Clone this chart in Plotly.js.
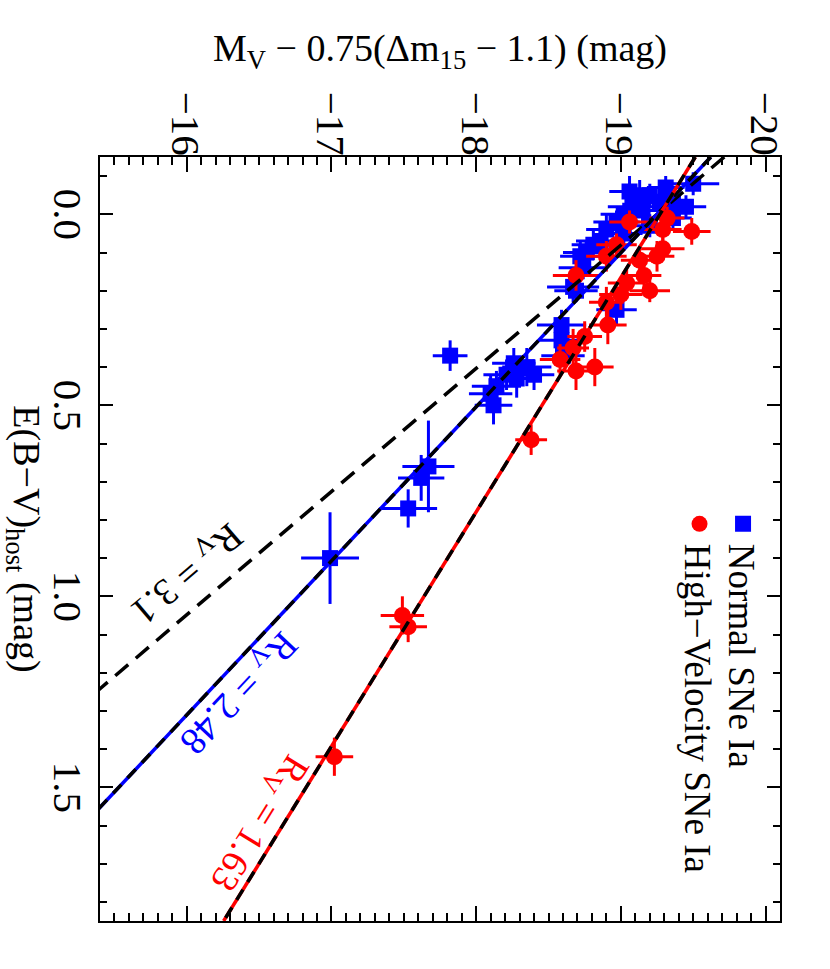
<!DOCTYPE html>
<html>
<head>
<meta charset="utf-8">
<script src="https://cdn.plot.ly/plotly-3.0.1.min.js"></script>
<style>
html,body{margin:0;padding:0;width:830px;height:969px;overflow:hidden;background:#fff;}
#wrap{position:absolute;left:0;top:0;width:969px;height:830px;transform-origin:0 0;transform:translate(830px,0) rotate(90deg);}
#plot{width:969px;height:830px;}
</style>
</head>
<body>
<div id="wrap"><div id="plot"></div></div>
<script>
// Normal SNe Ia
const blueE    = [-0.08,-0.02,-0.05,-0.05,-0.02,-0.03,-0.03,0.00,-0.01,-0.01,0.02,0.04,0.05,0.07,0.08,0.10,0.11,0.14,0.03,0.01,0.19,0.20,0.25,0.29,0.33,0.37,-0.07,-0.06,0.39,0.40,0.42,0.42,0.43,0.45,0.47,0.50,0.37,0.66,0.69,0.77,0.90];
const blueM    = [-19.50,-19.45,-19.13,-19.20,-19.08,-19.27,-19.36,-19.02,-19.15,-19.32,-18.97,-18.90,-19.02,-18.86,-18.81,-18.76,-18.72,-18.74,-19.20,-19.36,-18.67,-18.69,-18.97,-18.59,-18.59,-18.60,-19.31,-19.06,-18.26,-18.35,-18.40,-18.21,-18.28,-18.14,-18.10,-18.12,-17.82,-17.67,-17.62,-17.53,-16.99];
const blueEerr = [0.03,0.03,0.04,0.03,0.03,0.04,0.03,0.03,0.04,0.03,0.03,0.04,0.03,0.03,0.04,0.03,0.04,0.03,0.03,0.03,0.04,0.03,0.04,0.04,0.04,0.03,0.03,0.04,0.04,0.05,0.04,0.04,0.05,0.04,0.05,0.05,0.04,0.12,0.06,0.05,0.12];
const blueMerr = [0.18,0.14,0.12,0.15,0.17,0.13,0.14,0.16,0.12,0.15,0.16,0.14,0.13,0.17,0.15,0.16,0.14,0.17,0.12,0.13,0.18,0.15,0.14,0.17,0.16,0.15,0.13,0.14,0.15,0.17,0.14,0.16,0.13,0.17,0.15,0.13,0.12,0.18,0.16,0.20,0.20];
// High-Velocity SNe Ia
const redE    = [0.045,0.02,0.01,0.04,0.09,0.11,0.11,0.16,0.12,0.16,0.20,0.18,0.08,0.21,0.29,0.32,0.35,0.38,0.41,0.40,0.23,0.59,1.05,1.08,1.42];
const redM    = [-19.49,-19.06,-19.32,-19.29,-19.29,-19.25,-18.90,-18.69,-19.13,-19.16,-19.20,-19.04,-18.97,-19.00,-18.91,-18.75,-18.67,-18.58,-18.69,-18.82,-18.90,-18.38,-17.49,-17.53,-17.02];
const redEerr = [0.035,0.03,0.03,0.04,0.03,0.04,0.04,0.04,0.03,0.04,0.03,0.04,0.03,0.04,0.05,0.04,0.05,0.04,0.05,0.05,0.04,0.04,0.05,0.04,0.05];
const redMerr = [0.13,0.14,0.12,0.13,0.15,0.12,0.14,0.16,0.13,0.12,0.14,0.13,0.14,0.15,0.13,0.12,0.11,0.14,0.13,0.13,0.12,0.11,0.15,0.13,0.13];
// Extinction-law lines  M = M0 + Rv * E(B-V)
const rvValues   = [3.1, 2.48, 1.63];
const rvIntercept= [-19.25, -19.25, -19.27];
const rvLabels   = ['R<sub>V</sub> = 3.1','R<sub>V</sub> = 2.48','R<sub>V</sub> = 1.63'];
const rvLabelE   = [0.938, 1.25, 1.59];
const rvLabelM   = [-15.99, -16.35, -16.49];
const seriesNames= ['Normal SNe Ia','High\u2212Velocity SNe Ia'];
const eRange = [-0.15, 1.85];
const mRange = [-15.4, -20.1];

const FONT = "'Liberation Serif', 'Times New Roman', Times, serif";
const BLUE = '#0000ff', RED = '#ff0000';

function lineM(i){ return eRange.map(e => rvIntercept[i] + rvValues[i]*e); }

const traces = [
  {type:'scatter', mode:'markers', name:seriesNames[0], x:blueE, y:blueM,
   marker:{symbol:'square', size:16, color:BLUE},
   error_x:{type:'data', array:blueEerr, color:BLUE, thickness:3, width:0},
   error_y:{type:'data', array:blueMerr, color:BLUE, thickness:3, width:0},
   legend:'legend'},
  {type:'scatter', mode:'markers', name:seriesNames[1], x:redE, y:redM,
   marker:{symbol:'circle', size:17, color:RED},
   error_x:{type:'data', array:redEerr, color:RED, thickness:3, width:0},
   error_y:{type:'data', array:redMerr, color:RED, thickness:3, width:0},
   legend:'legend2'},
  {type:'scatter', mode:'lines', x:eRange, y:lineM(0), showlegend:false, hoverinfo:'skip',
   line:{color:'black', width:3.5, dash:'17px,10px'}},
  {type:'scatter', mode:'lines', x:eRange, y:lineM(1), showlegend:false, hoverinfo:'skip',
   line:{color:BLUE, width:3.5}},
  {type:'scatter', mode:'lines', x:eRange, y:lineM(1), showlegend:false, hoverinfo:'skip',
   line:{color:'black', width:3.5, dash:'12px,9px'}},
  {type:'scatter', mode:'lines', x:eRange, y:lineM(2), showlegend:false, hoverinfo:'skip',
   line:{color:RED, width:3.5}},
  {type:'scatter', mode:'lines', x:eRange, y:lineM(2), showlegend:false, hoverinfo:'skip',
   line:{color:'black', width:3.5, dash:'12px,9px'}}
];

const labelColors = ['black', BLUE, RED];
const annotations = rvValues.map((r,i)=>({
  x:rvLabelE[i], y:rvLabelM[i], xref:'x', yref:'y', text:rvLabels[i], showarrow:false,
  textangle: Math.atan(r*680/4.7/(764/2.0)) * 180/Math.PI,
  font:{family:FONT, size:38, color:labelColors[i]}, xanchor:'center', yanchor:'middle'
}));

const layout = {
  width:969, height:830,
  margin:{l:157, r:48, t:50, b:100},
  paper_bgcolor:'white', plot_bgcolor:'white',
  font:{family:FONT, size:38, color:'black'},
  showlegend:true,
  xaxis:{
    range:eRange, tick0:0, dtick:0.5, tickformat:'.1f',
    ticks:'inside', ticklen:13, tickwidth:2, tickcolor:'black',
    showline:true, linewidth:2, linecolor:'black', mirror:'allticks',
    showgrid:false, zeroline:false,
    minor:{dtick:0.1, ticklen:7, tickwidth:2, ticks:'inside', tickcolor:'black'},
    tickfont:{family:FONT, size:41, color:'black'},
    ticklabelstandoff:-5,
    title:{text:'E(B\u2212V)<sub>host</sub> (mag)', font:{family:FONT, size:38, color:'black'}, standoff:14}
  },
  yaxis:{
    range:mRange, tick0:-16, dtick:1,
    ticks:'inside', ticklen:15, tickwidth:2, tickcolor:'black',
    showline:true, linewidth:2, linecolor:'black', mirror:'allticks',
    showgrid:false, zeroline:false,
    minor:{dtick:0.1, ticklen:8, tickwidth:2, ticks:'inside', tickcolor:'black'},
    tickfont:{family:FONT, size:41, color:'black'},
    ticklabelstandoff:-9,
    title:{text:'M<sub>V</sub> \u2212 0.75(\u0394m<sub>15</sub> \u2212 1.1) (mag)', font:{family:FONT, size:38, color:'black'}, standoff:18}
  },
  legend:{x:0.454, y:0.945, xanchor:'left', yanchor:'middle', bgcolor:'rgba(0,0,0,0)', borderwidth:0,
          font:{family:FONT, size:37, color:'black'}},
  legend2:{x:0.454, y:0.881, xanchor:'left', yanchor:'middle', bgcolor:'rgba(0,0,0,0)', borderwidth:0,
          font:{family:FONT, size:37, color:'black'}},
  annotations:annotations
};

Plotly.newPlot('plot', traces, layout, {staticPlot:true, displayModeBar:false});
</script>
</body>
</html>
